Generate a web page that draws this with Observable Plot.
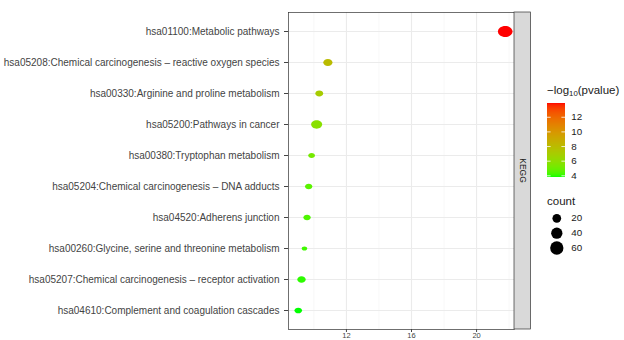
<!DOCTYPE html>
<html><head><meta charset="utf-8">
<script src="https://cdn.jsdelivr.net/npm/d3@7"></script>
<script src="https://cdn.jsdelivr.net/npm/@observablehq/plot@0.6"></script>
<style>
html,body{margin:0;padding:0;background:#fff;}
#chart{position:relative;width:624px;height:340px;overflow:hidden;font-family:"Liberation Sans",Arial,Helvetica,sans-serif;}
#chart svg{position:absolute;left:0;top:0;}
.ttl{position:absolute;font-size:11.5px;line-height:1;color:#1a1a1a;white-space:nowrap;}
.ttl sub{font-size:7.8px;vertical-align:-2px;line-height:0;}
</style></head><body><div id="chart"></div>
<script>
// ---- data ----
const pathways = [
  "hsa01100:Metabolic pathways",
  "hsa05208:Chemical carcinogenesis – reactive oxygen species",
  "hsa00330:Arginine and proline metabolism",
  "hsa05200:Pathways in cancer",
  "hsa00380:Tryptophan metabolism",
  "hsa05204:Chemical carcinogenesis – DNA adducts",
  "hsa04520:Adherens junction",
  "hsa00260:Glycine, serine and threonine metabolism",
  "hsa05207:Chemical carcinogenesis – receptor activation",
  "hsa04610:Complement and coagulation cascades"
];
const enrichment = [21.76, 10.86, 10.33, 10.17, 9.86, 9.68, 9.58, 9.42, 9.24, 9.04];
const negLog10P  = [13.92, 8.0, 7.0, 5.8, 5.2, 4.6, 4.4, 4.2, 4.0, 3.81];
const counts     = [54, 16, 10, 26, 6, 8, 8, 3, 12, 9];
const xMajorTicks = [12, 16, 20];
const xMinorTicks = [10, 14, 18, 22];
const colorTicks  = [4, 6, 8, 10, 12];
const countBreaks = [20, 40, 60];
const facetLabel  = "KEGG";

const data = pathways.map((p, i) => ({pathway: p, x: enrichment[i], p: negLog10P[i], count: counts[i]}));
const [cmin, cmax] = d3.extent(negLog10P);
const colorScale = {type: "linear", domain: [cmin, cmax], range: ["#00FF00", "#FF0000"], interpolate: "lab"};
const rScale = {type: "sqrt", domain: [2, 64], range: [2.21, 6.82]};
const font = '"Liberation Sans", Arial, Helvetica, sans-serif';

// horizontally stretched dot, as in the reference picture
const ellipse = {
  draw(ctx, size) {
    const r = Math.sqrt(size / Math.PI), rx = r * 1.15, ry = r * 0.865, k = 0.5523;
    ctx.moveTo(rx, 0);
    ctx.bezierCurveTo(rx, k * ry, k * rx, ry, 0, ry);
    ctx.bezierCurveTo(-k * rx, ry, -rx, k * ry, -rx, 0);
    ctx.bezierCurveTo(-rx, -k * ry, -k * rx, -ry, 0, -ry);
    ctx.bezierCurveTo(k * rx, -ry, rx, -k * ry, rx, 0);
    ctx.closePath();
  }
};

const chart = document.getElementById("chart");

const main = Plot.plot({
  width: 624, height: 340,
  marginLeft: 288, marginRight: 110, marginTop: 12, marginBottom: 11,
  style: {fontFamily: font, background: "transparent", overflow: "visible"},
  x: {domain: [8.44, 22.33], label: null},
  y: {type: "point", domain: pathways, padding: 0.6, label: null},
  color: colorScale,
  r: rScale,
  marks: [
    Plot.ruleX(xMinorTicks, {stroke: "#F3F3F3", strokeWidth: 0.6}),
    Plot.ruleX(xMajorTicks, {stroke: "#EBEBEB", strokeWidth: 1.1}),
    Plot.ruleY(pathways, {stroke: "#EBEBEB", strokeWidth: 1.1}),
    Plot.dot(data, {x: "x", y: "pathway", r: "count", fill: "p", symbol: ellipse}),
    Plot.frame({stroke: "#333", strokeWidth: 0.7}),
    Plot.axisY({tickSize: 4, tickPadding: 5, fontSize: 10, color: "#444", label: null}),
    Plot.axisX(xMajorTicks, {tickSize: 3, tickPadding: 0.5, fontSize: 7.5, color: "#444", label: null})
  ]
});
chart.appendChild(main);

// facet strip on the right of the panel
{
  const xr = main.scale("x").range, yr = main.scale("y").range;
  const x0 = Math.max(...xr), y0 = Math.min(...yr), y1 = Math.max(...yr);
  const g = d3.select(main).append("g");
  g.append("rect").attr("x", x0).attr("y", y0).attr("width", 16.5).attr("height", y1 - y0)
    .attr("fill", "#D9D9D9").attr("stroke", "#333").attr("stroke-width", 0.7);
  g.append("text").attr("transform", `translate(${x0 + 8.5},${(y0 + y1) / 2}) rotate(90)`)
    .attr("text-anchor", "middle").attr("dy", "0.35em").attr("font-size", 8.5)
    .attr("fill", "#1A1A1A").attr("font-family", font).text(facetLabel);
}

// color bar legend
const ramp = d3.range(74).map(i => ({
  y1: cmin + (cmax - cmin) * i / 74,
  y2: cmin + (cmax - cmin) * (i + 1) / 74
}));
const colorLegend = Plot.plot({
  width: 84, height: 100,
  marginTop: 12.7, marginBottom: 13.3, marginLeft: 7, marginRight: 59,
  style: {fontFamily: font, background: "transparent", overflow: "visible"},
  x: {domain: [0, 1], axis: null},
  y: {domain: [cmin, cmax], label: null},
  color: colorScale,
  marks: [
    Plot.rect(ramp, {x1: 0, x2: 1, y1: "y1", y2: "y2", fill: d => (d.y1 + d.y2) / 2, shapeRendering: "crispEdges"}),
    Plot.ruleY(colorTicks, {x1: 0, x2: 0.2, stroke: "white", strokeWidth: 0.8}),
    Plot.ruleY(colorTicks, {x1: 0.8, x2: 1, stroke: "white", strokeWidth: 0.8}),
    Plot.axisY(colorTicks, {anchor: "right", tickSize: 0, tickPadding: 5.7, fontSize: 9.8, color: "#1A1A1A", label: null})
  ]
});
colorLegend.style.left = "540px"; colorLegend.style.top = "90px";
chart.appendChild(colorLegend);

// size legend
const sizeLegend = Plot.plot({
  width: 84, height: 55,
  marginTop: 0, marginBottom: 0, marginLeft: 0, marginRight: 0,
  style: {fontFamily: font, background: "transparent", overflow: "visible"},
  y: {domain: [20, 60], range: [12.8, 42.5], axis: null},
  r: rScale,
  marks: [
    Plot.dot(countBreaks, {y: d => d, r: d => d, fill: "black", frameAnchor: "left", dx: 16.3}),
    Plot.text(countBreaks, {y: d => d, text: d => String(d), frameAnchor: "left", dx: 30.7, textAnchor: "start", fontSize: 9.8, fill: "#1A1A1A"})
  ]
});
sizeLegend.style.left = "540px"; sizeLegend.style.top = "205px";
chart.appendChild(sizeLegend);

// legend titles
const t1 = document.createElement("div");
t1.className = "ttl"; t1.style.left = "547px"; t1.style.top = "85px";
t1.innerHTML = "\u2212log<sub>10</sub>(pvalue)";
chart.appendChild(t1);
const t2 = document.createElement("div");
t2.className = "ttl"; t2.style.left = "547px"; t2.style.top = "196px";
t2.textContent = "count";
chart.appendChild(t2);
</script></body></html>
